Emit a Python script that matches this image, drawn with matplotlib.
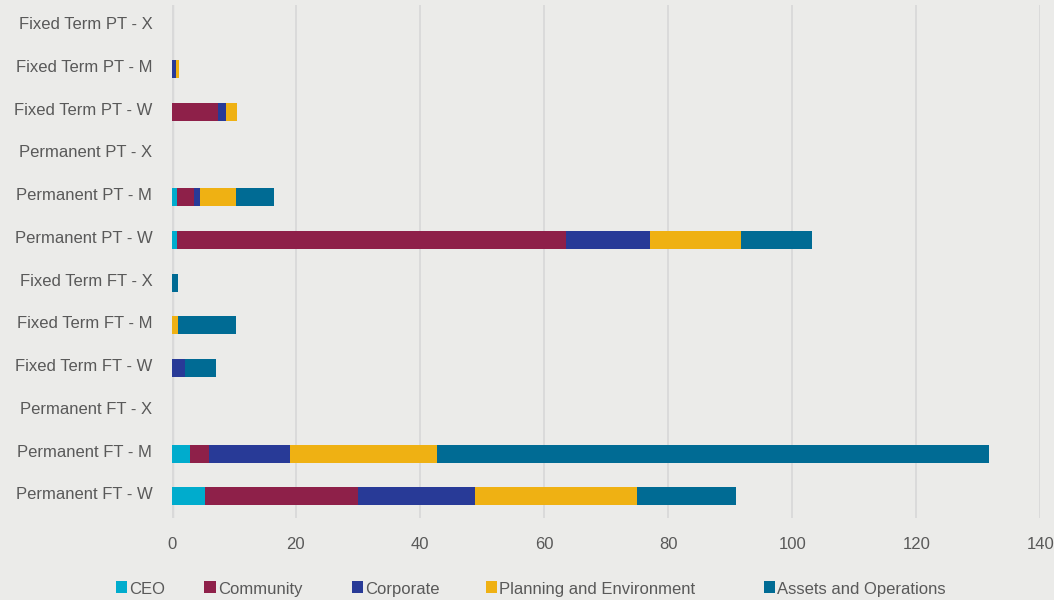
import matplotlib
matplotlib.use("Agg")
import matplotlib.pyplot as plt
import matplotlib.transforms as mtransforms
from matplotlib.patches import Rectangle
import numpy as np

categories = [
    "Permanent FT - W", "Permanent FT - M", "Permanent FT - X",
    "Fixed Term FT - W", "Fixed Term FT - M", "Fixed Term FT - X",
    "Permanent PT - W", "Permanent PT - M", "Permanent PT - X",
    "Fixed Term PT - W", "Fixed Term PT - M", "Fixed Term PT - X",
]
series_names = ["CEO", "Community", "Corporate", "Planning and Environment", "Assets and Operations"]
ceo = [5.3, 3.0, 0, 0, 0, 0, 0.8, 0.8, 0, 0, 0, 0]
community = [24.7, 3.0, 0, 0, 0, 0, 62.7, 2.8, 0, 7.4, 0, 0]
corporate = [18.9, 13.1, 0, 2.2, 0, 0, 13.6, 1.0, 0, 1.3, 0.6, 0]
planning = [26.1, 23.6, 0, 0, 1.0, 0, 14.7, 5.8, 0, 1.8, 0.5, 0]
assets = [16.0, 89.0, 0, 5.0, 9.3, 1.0, 11.4, 6.0, 0, 0, 0, 0]
x_ticks = [0, 20, 40, 60, 80, 100, 120, 140]

colors = ["#00ACCD", "#8E2049", "#283A97", "#EFB113", "#006B94"]
bg = "#EBEBE9"
grid_c = "#D9D9D9"
text_c = "#595959"

plt.rcParams["font.family"] = ["Liberation Sans", "DejaVu Sans"]

fig = plt.figure(figsize=(10.54, 6.0), dpi=100, facecolor=bg)
ax = fig.add_axes([0.163, 0.137, 0.824, 0.855], facecolor=bg)

y = np.arange(len(categories))
left = np.zeros(len(categories))
for vals, c, name in zip([ceo, community, corporate, planning, assets], colors, series_names):
    ax.barh(y, vals, left=left, height=0.42, color=c, label=name, zorder=3)
    left += np.array(vals)

ax.set_xlim(0, 140)
ax.set_ylim(-0.5, len(categories) - 0.5)
ax.set_yticks(y)
ax.set_yticklabels(categories)
ax.set_xticks(x_ticks)
ax.set_xticklabels([str(t) for t in x_ticks])
ax.tick_params(axis="y", length=0, pad=14, labelsize=12, labelcolor=text_c)
ax.tick_params(axis="x", length=0, pad=14, labelsize=12, labelcolor=text_c)
# nudge category labels slightly upward
offset = mtransforms.ScaledTranslation(0, 3 / 100, fig.dpi_scale_trans)
for lbl in ax.get_yticklabels():
    lbl.set_transform(lbl.get_transform() + offset)
ax.grid(axis="x", color=grid_c, linewidth=1.3, zorder=0)
for s in ax.spines.values():
    s.set_visible(False)
ax.axvline(0, color=grid_c, linewidth=2.5, zorder=2)

# legend row below the axis
legend_x = [0.110, 0.194, 0.334, 0.461, 0.725]
for lx, c, name in zip(legend_x, colors, series_names):
    fig.patches.append(Rectangle((lx, 0.0125), 0.0105, 0.0185, transform=fig.transFigure,
                                 facecolor=c, edgecolor="none"))
    fig.text(lx + 0.0125, 0.018, name, fontsize=12, color=text_c, va="center", ha="left")

fig.savefig("out.png", dpi=100, facecolor=bg)
